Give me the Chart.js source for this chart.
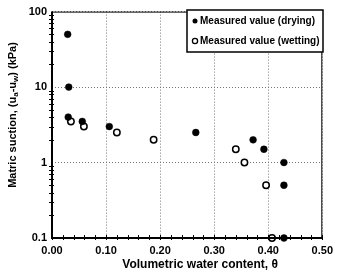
<!DOCTYPE html>
<html>
<head>
<meta charset="utf-8">
<script src="https://cdn.jsdelivr.net/npm/chart.js@4"></script>
<style>
  html, body { margin: 0; padding: 0; background: #fff; }
  #wrap { width: 339px; height: 274px; }
</style>
</head>
<body>
<div id="wrap"><canvas id="c" width="339" height="274"></canvas></div>
<script>
// ── Data ──────────────────────────────────────────────────────────────
const DRYING_X  = [0.029, 0.031, 0.030, 0.056, 0.106, 0.266, 0.372, 0.392, 0.429, 0.429, 0.429];
const DRYING_Y  = [50,    10,    4,     3.5,   3,     2.5,   2,     1.5,   1,     0.5,   0.1];
const WETTING_X = [0.035, 0.059, 0.120, 0.188, 0.340, 0.356, 0.396, 0.407];
const WETTING_Y = [3.5,   3.0,   2.5,   2.0,   1.5,   1.0,   0.5,   0.1];

const X_TICKS = [0, 0.1, 0.2, 0.3, 0.4, 0.5];
const Y_TICKS = [0.1, 1, 10, 100];
const X_MINOR = [];
for (let i = 0; i <= 25; i++) X_MINOR.push(i * 0.02);
const Y_MINOR = [];
[0.1, 1, 10].forEach(d => { for (let k = 2; k <= 9; k++) Y_MINOR.push(d * k); });

const LEGEND_LABELS = ['Measured value (drying)', 'Measured value (wetting)'];
const X_TITLE = 'Volumetric water content, \u03B8';

const FONT = 'Arial, "Liberation Sans", sans-serif';

const toPts = (xs, ys) => xs.map((x, i) => ({ x, y: ys[i] }));

// ── Frame, minor ticks, titles, legend ────────────────────────────────
const decorPlugin = {
  id: 'decor',
  afterDraw(chart) {
    const { ctx, chartArea: a, scales: { x, y } } = chart;
    ctx.save();

    // thin frame
    ctx.strokeStyle = '#000';
    ctx.lineWidth = 1;
    ctx.strokeRect(a.left + 0.5, a.top + 0.5, a.right - a.left - 1, a.bottom - a.top - 1);

    // minor ticks
    ctx.lineWidth = 1;
    ctx.beginPath();
    X_MINOR.forEach(v => {
      const px = Math.round(x.getPixelForValue(v)) + 0.5;
      ctx.moveTo(px, a.bottom - 3); ctx.lineTo(px, a.bottom + 2);
    });
    Y_MINOR.forEach(v => {
      const py = Math.round(y.getPixelForValue(v)) + 0.5;
      ctx.moveTo(a.left - 3, py); ctx.lineTo(a.left + 2, py);
    });
    ctx.stroke();

    // thick left and bottom axes
    ctx.lineWidth = 2;
    ctx.beginPath();
    ctx.moveTo(a.left, a.top); ctx.lineTo(a.left, a.bottom);
    ctx.lineTo(a.right, a.bottom);
    ctx.stroke();

    // x title
    ctx.fillStyle = '#000';
    ctx.font = 'bold 12px ' + FONT;
    ctx.textAlign = 'center';
    ctx.textBaseline = 'middle';
    ctx.fillText(X_TITLE, (a.left + a.right) / 2 + 13, 265);

    // y title with subscripts
    const parts = [
      ['Matric suction, (u', 0], ['a', 1], ['-u', 0], ['w', 1], [') (kPa)', 0]
    ];
    const big = 'bold 11px ' + FONT, small = 'bold 8px ' + FONT;
    let w = 0;
    parts.forEach(([t, s]) => { ctx.font = s ? small : big; w += ctx.measureText(t).width; });
    ctx.translate(13, 115);
    ctx.rotate(-Math.PI / 2);
    ctx.textAlign = 'left';
    ctx.textBaseline = 'middle';
    let cx = -w / 2;
    parts.forEach(([t, s]) => {
      ctx.font = s ? small : big;
      ctx.fillText(t, cx, s ? 3 : 0);
      cx += ctx.measureText(t).width;
    });
    ctx.setTransform(1, 0, 0, 1, 0, 0);

    // legend
    const lx = 187, ly = 10, lw = 136, lh = 42;
    ctx.fillStyle = '#fff';
    ctx.fillRect(lx, ly, lw, lh);
    ctx.strokeStyle = '#000';
    ctx.lineWidth = 1.5;
    ctx.strokeRect(lx, ly, lw, lh);
    ctx.font = 'bold 10px ' + FONT;
    ctx.textAlign = 'left';
    ctx.textBaseline = 'middle';
    ctx.fillStyle = '#000';
    ctx.beginPath(); ctx.arc(195, 21, 2.5, 0, Math.PI * 2); ctx.fill();
    ctx.fillText(LEGEND_LABELS[0], 200, 21);
    ctx.lineWidth = 1.3;
    ctx.beginPath(); ctx.arc(195, 41, 2.6, 0, Math.PI * 2); ctx.stroke();
    ctx.fillText(LEGEND_LABELS[1], 200, 41);

    ctx.restore();
  }
};

new Chart(document.getElementById('c'), {
  type: 'scatter',
  plugins: [decorPlugin],
  data: {
    datasets: [
      {
        label: LEGEND_LABELS[0],
        data: toPts(DRYING_X, DRYING_Y),
        pointRadius: 3.4,
        pointBackgroundColor: '#000',
        pointBorderColor: '#000',
        pointBorderWidth: 0.5,
        clip: false,
      },
      {
        label: LEGEND_LABELS[1],
        data: toPts(WETTING_X, WETTING_Y),
        pointRadius: 3.2,
        pointBackgroundColor: '#fff',
        pointBorderColor: '#000',
        pointBorderWidth: 1.5,
        clip: false,
      }
    ]
  },
  options: {
    responsive: false,
    animation: false,
    devicePixelRatio: 1,
    layout: { padding: { left: 22, right: 12, top: 5, bottom: 0 } },
    plugins: { legend: { display: false }, tooltip: { enabled: false } },
    scales: {
      x: {
        type: 'linear', min: 0, max: 0.5,
        afterBuildTicks: s => { s.ticks = X_TICKS.map(v => ({ value: v })); },
        afterFit: s => { s.height = 36; },
        ticks: {
          color: '#000', padding: 6, maxRotation: 0,
          font: { family: FONT, size: 11, weight: 'bold' },
          callback: v => Number(v).toFixed(2),
        },
        grid: { color: '#777', lineWidth: 1, drawTicks: false },
        border: { display: false, dash: [1, 2] },
      },
      y: {
        type: 'logarithmic', min: 0.1, max: 100,
        afterBuildTicks: s => { s.ticks = Y_TICKS.map(v => ({ value: v })); },
        afterFit: s => { s.width = 30; },
        ticks: {
          color: '#000', padding: 5, autoSkip: false,
          font: { family: FONT, size: 11, weight: 'bold' },
          callback: v => String(v),
        },
        grid: { color: '#777', lineWidth: 1, drawTicks: false },
        border: { display: false, dash: [1, 2] },
      }
    }
  }
});
</script>
</body>
</html>
